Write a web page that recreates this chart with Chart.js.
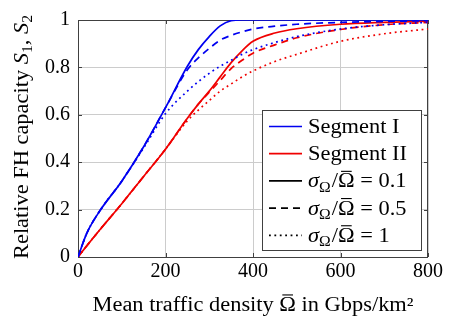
<!DOCTYPE html>
<html>
<head>
<meta charset="utf-8">
<script src="https://cdn.jsdelivr.net/npm/chart.js@4"></script>
<style>
body { margin: 0; background: #fff; }
#wrap { width: 462px; height: 316px; }
</style>
</head>
<body>
<div id="wrap"><canvas id="chart" width="462" height="316"></canvas></div>
<script>
// mean traffic density (Gbps/km^2)
const trafficDensity = [0, 20, 50, 100, 150, 200, 250, 275, 300, 325, 350, 375, 400, 450, 500, 600, 700, 800];

// segment I (blue)
const seg1Sigma01 = [0, .10, .195, .32, .465, .63, .805, .875, .93, .975, .997, 1, 1, 1, 1, 1, 1, 1];
const seg1Sigma05 = [0, .10, .195, .32, .465, .63, .79, .84, .88, .915, .935, .95, .962, .974, .982, .99, .994, .997];
const seg1Sigma1  = [0, .10, .195, .32, .46, .605, .70, .74, .775, .805, .83, .855, .875, .905, .93, .962, .98, .99];

// segment II (red)
const seg2Sigma01 = [0, .047, .115, .225, .34, .455, .585, .645, .70, .76, .82, .87, .91, .945, .963, .982, .99, .995];
const seg2Sigma05 = [0, .047, .115, .225, .34, .455, .585, .645, .695, .745, .795, .83, .86, .895, .925, .96, .98, .99];
const seg2Sigma1  = [0, .047, .115, .225, .34, .455, .575, .62, .66, .70, .73, .76, .785, .825, .855, .91, .942, .962];

const xTicks = [0, 200, 400, 600, 800];
const yTicks = [0, 0.2, 0.4, 0.6, 0.8, 1];

const FONT = '"Liberation Serif", "Times New Roman", serif';
const FS = 20;
const SX = 1.12; // CM is wider than Times, stretch the titles a bit
const BLUE = '#0000f0';
const RED = '#f00000';
const DASHED = [7, 5];
const DOTTED = [1.8, 3.6];

function pts(ys) {
    return trafficDensity.map((x, i) => ({ x: x, y: ys[i] }));
}

function series(label, ys, color, dash) {
    return {
        label: label,
        data: pts(ys),
        borderColor: color,
        borderWidth: 1.7,
        borderDash: dash,
        pointRadius: 0,
        fill: false,
        cubicInterpolationMode: 'monotone'
    };
}

function fontStr(size, italic) {
    return (italic ? 'italic ' : '') + size + 'px ' + FONT;
}

// pieces of text: {t, it (italic), sub, bar (overline)}
function richWidth(ctx, runs, size) {
    let w = 0;
    runs.forEach(r => {
        ctx.font = fontStr(r.sub ? size * 0.7 : size, r.it);
        w += ctx.measureText(r.t).width + (r.pad || 0);
    });
    return w * SX;
}

// draws at (x, y) with the text stretched horizontally by SX
function drawRich(ctx, runs, x, y, size) {
    ctx.save();
    ctx.translate(x, y);
    ctx.scale(SX, 1);
    let cx = 0;
    runs.forEach(r => {
        const sz = r.sub ? size * 0.7 : size;
        ctx.font = fontStr(sz, r.it);
        const dy = r.sub ? size * 0.22 : 0;
        ctx.fillText(r.t, cx, dy);
        const w = ctx.measureText(r.t).width;
        if (r.bar) ctx.fillRect(cx + w * 0.18, -size * 0.83, w * 0.64, 1.1);
        cx += w + (r.pad || 0);
    });
    ctx.restore();
}

const sigmaRuns = v => [
    { t: 'σ', it: true },
    { t: 'Ω', sub: true, pad: 1 },
    { t: '/' },
    { t: 'Ω', bar: true },
    { t: ' = ' + v }
];

const legendItems = [
    { color: BLUE, dash: [], runs: [{ t: 'Segment I' }] },
    { color: RED, dash: [], runs: [{ t: 'Segment II' }] },
    { color: '#000', dash: [], runs: sigmaRuns('0.1') },
    { color: '#000', dash: DASHED, runs: sigmaRuns('0.5') },
    { color: '#000', dash: DOTTED, runs: sigmaRuns('1') }
];

const frame = {
    id: 'frame',
    beforeDatasetsDraw(chart) {
        const { ctx, chartArea: a, scales } = chart;
        ctx.save();
        ctx.strokeStyle = '#404040';
        ctx.lineWidth = 1;
        ctx.strokeRect(a.left + 0.5, a.top + 0.5, a.right - a.left - 1, a.bottom - a.top);
        ctx.beginPath();
        xTicks.forEach(v => {
            const px = Math.round(scales.x.getPixelForValue(v)) + 0.5;
            ctx.moveTo(px, a.bottom); ctx.lineTo(px, a.bottom - 4);
            ctx.moveTo(px, a.top); ctx.lineTo(px, a.top + 4);
        });
        yTicks.forEach(v => {
            const py = Math.round(scales.y.getPixelForValue(v)) + 0.5;
            ctx.moveTo(a.left, py); ctx.lineTo(a.left + 4, py);
            ctx.moveTo(a.right, py); ctx.lineTo(a.right - 4, py);
        });
        ctx.stroke();
        ctx.restore();
    },
    afterDraw(chart) {
        const { ctx, chartArea: a } = chart;
        ctx.save();
        ctx.fillStyle = '#000';
        ctx.textBaseline = 'alphabetic';

        // axis titles
        const xr = [{ t: 'Mean traffic density ' }, { t: 'Ω', bar: true }, { t: ' in Gbps/km²' }];
        const xw = richWidth(ctx, xr, FS);
        drawRich(ctx, xr, (a.left + a.right) / 2 - xw / 2, 311, FS);

        const yr = [{ t: 'Relative FH capacity ' }, { t: 'S', it: true }, { t: '1', sub: true }, { t: ', ' }, { t: 'S', it: true }, { t: '2', sub: true }];
        const yw = richWidth(ctx, yr, FS);
        ctx.save();
        ctx.translate(28, 137);
        ctx.rotate(-Math.PI / 2);
        drawRich(ctx, yr, -yw / 2, 0, FS);
        ctx.restore();

        // legend box
        const bx = a.right - 166, by = a.bottom - 147, bw = 159, bh = 140;
        ctx.fillStyle = '#fff';
        ctx.fillRect(bx, by, bw, bh);
        ctx.strokeStyle = '#404040';
        ctx.lineWidth = 1;
        ctx.strokeRect(bx + 0.5, by + 0.5, bw, bh);
        legendItems.forEach((it, i) => {
            const cy = by + 16.5 + i * 27.2;
            ctx.beginPath();
            ctx.strokeStyle = it.color;
            ctx.lineWidth = 1.7;
            ctx.setLineDash(it.dash);
            ctx.moveTo(bx + 7, cy);
            ctx.lineTo(bx + 40, cy);
            ctx.stroke();
            ctx.setLineDash([]);
            ctx.fillStyle = '#000';
            drawRich(ctx, it.runs, bx + 46, cy + 6.5, FS);
        });
        ctx.restore();
    }
};

new Chart(document.getElementById('chart'), {
    type: 'line',
    data: {
        datasets: [
            series('Segment I, 0.1', seg1Sigma01, BLUE, []),
            series('Segment I, 0.5', seg1Sigma05, BLUE, DASHED),
            series('Segment I, 1', seg1Sigma1, BLUE, DOTTED),
            series('Segment II, 0.1', seg2Sigma01, RED, []),
            series('Segment II, 0.5', seg2Sigma05, RED, DASHED),
            series('Segment II, 1', seg2Sigma1, RED, DOTTED)
        ]
    },
    options: {
        responsive: false,
        animation: false,
        layout: { padding: { left: 0, right: 34, top: 19, bottom: 0 } },
        plugins: { legend: { display: false }, tooltip: { enabled: false } },
        scales: {
            x: {
                type: 'linear', min: 0, max: 800,
                afterBuildTicks: s => { s.ticks = xTicks.map(v => ({ value: v })); },
                afterFit: s => { s.height = 59; },
                grid: { color: '#cccccc', lineWidth: 1, drawTicks: false },
                border: { display: false },
                ticks: { color: '#000', font: { family: FONT, size: FS }, padding: 3, maxRotation: 0, callback: v => String(v) }
            },
            y: {
                type: 'linear', min: 0, max: 1,
                afterBuildTicks: s => { s.ticks = yTicks.map(v => ({ value: v })); },
                afterFit: s => { s.width = 78; },
                grid: { color: '#cccccc', lineWidth: 1, drawTicks: false },
                border: { display: false },
                ticks: { color: '#000', font: { family: FONT, size: FS }, padding: 8, callback: v => String(v) }
            }
        }
    },
    plugins: [frame]
});
</script>
</body>
</html>
